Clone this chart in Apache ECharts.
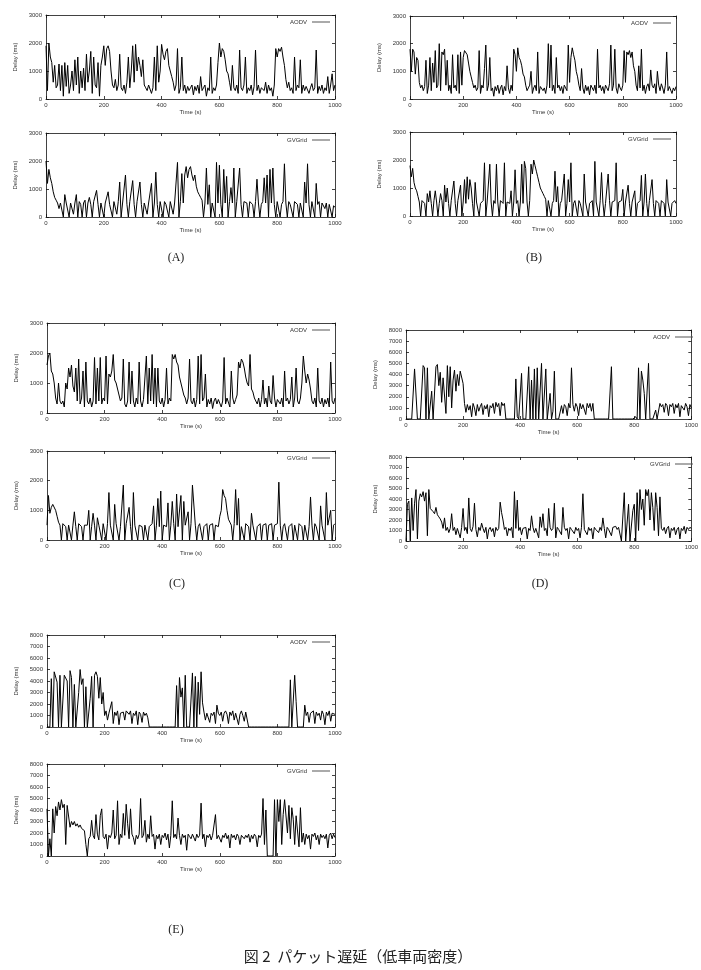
<!DOCTYPE html>
<html>
<head>
<meta charset="UTF-8">
<title>パケット遅延（低車両密度）</title>
<script src="https://cdn.jsdelivr.net/npm/echarts@6/dist/echarts.min.js"></script>
<style>html,body{margin:0;padding:0;background:#fff;}</style>
</head>
<body>
<div id="main" style="width:701px;height:970px;"></div>
<script>
// 5 秒ごとのサンプル (0..1000 s, 201 点)
var STEP = 5;

var aAodv = [
 1900,300,2000,1500,1300,600,1200,400,500,1250,300,1200,100,1300,450,1200,200,500,1000,300,
 1400,500,1500,200,1000,400,1100,300,1600,600,1000,1700,200,1500,500,400,1300,100,1200,1500,
 1900,1200,1800,1900,1700,1000,500,400,700,300,500,1600,400,300,500,200,600,1500,400,1000,
 1900,600,1950,1000,1500,1200,800,1400,500,400,300,500,450,200,400,1500,300,1900,600,1000,
 1950,1600,1400,1700,1800,1200,1000,800,600,300,500,1800,200,400,1500,300,500,200,450,300,
 400,500,150,450,300,500,200,800,300,400,500,100,400,300,1500,200,400,300,500,1300,
 2000,1500,1800,1700,1400,1000,900,600,300,1200,400,300,500,200,1750,400,300,500,1500,200,
 400,300,500,150,450,1750,300,500,200,400,450,300,600,200,500,300,400,100,500,1800,
 1500,1800,1700,1850,1500,1200,700,400,600,300,400,200,1500,300,500,400,1400,200,500,300,
 450,500,200,400,550,300,400,1750,200,450,300,500,200,400,300,800,200,500,900,300,
 500];
var aGvgrid = [
 2000,1200,1700,1400,1200,900,700,600,500,300,500,550,0,800,500,450,0,500,550,100,
 500,800,0,550,450,0,500,600,0,500,700,450,0,550,500,950,450,0,500,550,
 0,500,550,900,450,500,0,550,500,100,550,1250,0,500,550,1500,450,0,550,500,
 1300,450,0,550,500,1250,450,0,500,550,100,500,450,1200,0,500,1600,450,0,550,
 500,0,550,450,500,0,550,500,100,500,450,1950,0,550,1550,500,1500,1800,1400,1700,
 1800,1500,1300,1500,1100,900,800,700,600,0,500,1750,450,1150,0,500,550,0,1950,500,
 1850,450,0,1700,500,1450,0,550,1050,500,1750,0,550,500,1750,450,0,550,600,500,
 0,550,500,450,0,550,1350,500,0,450,550,1400,500,1500,0,1700,500,1750,450,0,
 550,500,0,450,550,1900,500,0,550,450,500,0,550,500,450,0,500,550,0,1250,
 500,1900,450,0,550,500,0,1200,450,550,0,500,450,300,500,0,450,500,0,400,
 350];
var bAodv = [
 1800,1000,1800,1700,900,1500,1400,600,400,500,300,450,1400,200,500,1500,300,1300,600,1750,
 400,500,2000,300,1700,1600,1800,500,1400,300,500,200,1600,400,500,300,1600,200,1700,500,
 1500,1750,1800,1600,1300,1000,800,600,400,500,300,400,1750,200,500,400,1100,1950,300,500,
 1500,300,400,100,450,300,500,200,400,500,150,450,300,1200,400,200,500,300,1800,1600,
 1000,1850,1500,1400,1200,900,800,500,300,400,500,1000,200,400,500,300,1700,200,450,500,
 300,400,200,500,2000,400,1950,300,500,200,1500,400,500,300,450,200,500,400,300,1950,
 600,1500,1850,1600,1400,1000,800,500,300,1100,400,200,500,300,450,150,500,400,300,500,
 200,1800,400,500,300,450,200,500,400,300,550,1950,300,500,1800,400,200,550,400,300,
 500,1750,600,1700,1600,1750,1500,1700,1200,1000,500,300,1200,400,1800,300,500,200,450,550,
 300,1050,500,400,550,200,1000,500,300,550,400,200,500,1700,300,450,500,200,400,300,
 450];
var bGvgrid = [
 1800,1400,1700,1200,1000,900,700,500,0,550,500,450,0,800,500,900,450,0,550,900,
 500,0,450,800,550,0,1100,500,1000,450,0,550,500,1250,450,0,550,500,1100,0,
 500,1300,450,1400,600,1300,1000,450,0,1200,500,550,0,450,500,550,1900,0,500,450,
 1850,500,0,550,450,1850,500,0,550,500,450,1900,0,500,550,450,900,0,500,1650,
 450,550,0,500,1850,450,1950,1700,500,0,550,1850,1500,2000,1800,1600,1400,1200,1000,900,
 800,700,600,0,550,500,0,450,550,1600,500,1050,0,450,550,500,1500,0,450,1300,
 500,1900,0,450,550,500,0,550,450,500,0,1500,500,550,0,450,500,550,0,1950,
 500,450,0,550,1550,500,0,450,500,1500,550,0,500,450,550,1900,0,500,450,550,
 950,0,500,550,1100,450,0,500,550,900,0,450,500,550,1450,0,500,1500,450,0,
 550,500,1300,450,0,550,500,450,0,550,500,450,0,1300,500,550,0,450,500,550,
 450];
var cAodv = [
 1600,1900,2000,1400,1300,1000,500,300,1000,400,300,400,200,1000,800,1500,1200,1600,900,700,
 1500,400,1800,300,500,1400,200,1700,400,300,500,200,400,1850,300,1500,400,1850,300,500,
 400,1900,300,1300,1200,1400,1950,1100,1000,800,600,400,500,1800,300,200,400,1700,300,1400,
 400,200,500,300,1700,400,200,450,500,1900,300,1500,400,1950,300,1500,200,1500,400,300,
 500,200,450,1500,300,500,400,1950,1800,1950,1700,1600,1200,1000,800,600,500,300,500,1800,
 400,300,500,200,450,1900,300,1950,400,500,1300,200,450,300,500,150,400,500,300,450,
 500,200,400,1850,300,500,450,200,1400,500,300,450,600,1700,1500,1800,1700,1500,1200,1000,
 900,1950,800,700,500,400,300,500,200,450,1100,300,500,200,900,400,300,1250,500,200,
 450,400,300,500,200,1400,400,500,300,450,1200,200,500,1500,400,300,500,1000,1900,1400,
 1000,1300,1100,800,400,300,500,200,1500,400,300,500,200,450,300,500,200,1700,400,300,
 500];
var cGvgrid = [
 500,1500,900,1100,1200,1150,1000,800,600,500,0,550,500,450,0,500,550,0,500,950,
 450,0,550,500,450,0,500,550,500,1000,0,450,900,500,0,750,500,450,0,550,
 500,0,550,1600,500,450,0,1200,550,500,0,450,500,1850,0,550,500,1100,450,0,
 1600,500,450,0,500,550,450,0,500,550,0,450,500,550,1150,0,500,1400,450,1650,
 0,500,550,450,1250,0,500,1300,550,0,1550,450,500,1500,0,1300,500,450,950,0,
 550,1850,1900,500,0,450,550,500,0,450,500,550,0,500,450,550,0,500,550,450,
 800,1000,1700,1500,1400,1000,700,600,500,0,550,1700,500,1400,0,450,500,0,550,500,
 450,0,900,500,550,0,450,500,550,0,500,450,550,0,500,450,550,0,500,450,
 550,1950,500,0,450,550,500,0,450,500,550,0,500,450,0,550,500,450,0,500,
 550,0,450,1450,500,0,550,450,500,0,1150,500,450,0,1600,500,550,1000,0,500,
 550];
var dAodv = [
 0,0,0,0,0,0,4500,4400,0,0,0,0,4800,4600,0,4600,0,0,2500,0,
 0,4700,4900,3000,4200,1500,3700,3600,500,4800,2000,4700,1000,3500,4400,2500,4000,3000,4300,4400,
 3200,1400,600,1300,800,1200,200,1400,1000,300,1300,700,1100,1400,400,1200,900,1300,200,1200,
 1000,1400,500,1500,1100,1400,300,1500,1200,1400,0,0,0,0,0,0,0,3600,200,0,
 0,4100,0,0,0,0,4700,0,3500,0,4500,0,4600,0,0,5000,0,0,4500,0,
 0,2300,0,700,4300,0,0,0,0,1200,500,1300,1100,300,1400,1000,4600,1300,700,1400,
 1100,300,1400,900,1300,1200,400,1400,1000,1400,700,1400,0,0,0,0,0,0,0,0,
 0,0,0,0,4700,0,0,0,0,0,0,0,0,0,0,0,0,0,0,0,
 0,200,0,4600,0,4300,3500,2300,0,0,5000,0,0,0,0,800,0,0,1400,1100,
 1300,600,1400,1200,300,1300,1100,1400,500,1300,1000,1400,200,1200,1300,800,1400,1100,300,1300,
 1000];
var dGvgrid = [
 0,3500,3800,0,4100,1000,3600,4900,200,3800,4500,4200,4700,3800,4600,500,4900,3100,3000,2800,
 2600,3200,2500,2300,2100,1800,1200,2200,1000,1300,800,1200,2600,1000,1300,600,1200,1100,300,1300,
 3100,1000,1300,700,4100,1200,900,1400,3600,1100,400,1300,1000,1700,1200,800,1300,200,1100,1300,
 900,1200,400,1300,1000,1200,3700,2700,2000,1100,1300,500,1200,1000,1300,300,4700,1200,3900,1000,
 1300,600,1200,1100,1300,200,1200,1000,2400,1300,800,1200,1100,300,2300,1300,2600,1000,1200,500,
 3100,1300,1000,1200,3600,300,1300,1100,1200,600,3200,1300,1000,1200,200,1300,1100,1200,700,1300,
 1000,1200,300,1300,4500,1100,1200,600,1300,1000,1200,200,1300,1100,1200,800,1300,1000,2200,1200,
 300,1300,1100,1200,500,1300,1200,1400,1100,1300,1200,0,0,4600,0,0,3500,0,0,2900,
 3500,0,4600,1000,4900,3000,4000,1500,4900,4300,4900,2000,4600,3200,1000,4600,3200,500,4200,1200,
 1000,1300,700,1200,1400,300,1200,1000,1300,600,1100,1300,200,1200,1000,1400,700,1300,1100,1300,
 1200];
var eAodv = [
 0,0,0,4200,0,4800,4900,3900,0,4500,0,0,4500,4500,4000,0,4900,4300,0,3700,
 0,0,3000,5000,3700,4200,0,3500,0,0,2500,4400,0,4500,4800,4400,2500,4300,2000,3000,
 1000,1400,600,1200,1100,2200,300,1300,1000,1400,200,1200,1100,1300,600,1400,1300,1100,1400,300,
 1200,1000,1400,200,1300,1100,400,1300,1000,1200,800,0,0,0,0,0,0,0,0,0,
 0,0,0,0,0,0,0,0,0,0,3600,0,4300,2600,3400,0,4500,0,0,0,
 0,4700,0,4400,0,3900,1100,4800,2100,1300,600,1200,1300,400,1200,1000,1300,300,1900,1200,
 1000,1300,500,1200,1400,1100,300,1300,1000,1400,600,1200,1300,200,1100,1400,1000,500,1300,1400,
 0,0,0,0,0,0,0,0,0,0,0,0,0,0,0,0,0,0,0,0,
 0,0,0,0,0,0,0,0,0,4100,0,0,4500,2200,0,0,0,0,0,1900,
 1000,1300,400,1200,1100,1400,300,1300,1000,1200,600,1400,1100,200,1300,1000,1400,500,1200,1300,
 1100];
var eGvgrid = [
 4100,0,1500,0,4100,2000,4300,3500,4700,4000,4900,4200,4500,1000,4400,4500,2500,3000,2700,3000,
 2600,2800,2500,2700,2400,2500,2200,1000,0,1500,1700,3100,1800,1500,3600,1900,1400,3500,4100,1700,
 1500,1900,600,1800,1600,2000,4000,1500,1800,4800,1000,1900,1600,3700,1800,4500,2800,1500,4100,1900,
 1600,1000,1800,1500,1900,5000,1600,1800,3100,1200,1900,1500,3500,1700,1900,600,1800,1500,1900,1000,
 1800,1600,2000,1400,1900,700,1800,4800,1600,1900,1500,3300,1800,1000,1900,1600,1800,500,1900,1700,
 1500,1900,1800,1300,1900,1600,1800,4600,1500,1900,800,1800,1600,1900,1400,1800,1900,3600,1500,1800,
 1900,1200,1800,1600,2000,1500,1800,700,1900,1600,1800,1400,1900,1700,1000,1800,1900,1500,1800,1600,
 1900,1200,1800,1500,1900,1700,800,1800,1600,1900,5000,1000,4000,0,0,0,0,0,4900,0,
 4900,3000,4900,1000,3600,4900,4800,2000,4400,1500,4200,3200,1000,3500,3400,800,4200,1200,2000,1000,
 1900,1500,1800,600,1900,1700,2000,1400,1800,1000,1900,1600,1800,1500,1900,700,1800,2000,1500,1900,
 1600];

var seriesNames = ['AODV','GVGrid','AODV','GVGrid','AODV','GVGrid','AODV','GVGrid','AODV','GVGrid'];
var seriesValues = [aAodv,aGvgrid,bAodv,bGvgrid,cAodv,cGvgrid,dAodv,dGvgrid,eAodv,eGvgrid];
var yMax = [3000,3000,3000,3000,3000,3000,8000,8000,8000,8000];
var panelLabels = ['(A)','(B)','(C)','(D)','(E)'];
var caption = '図 2  パケット遅延（低車両密度）';

// 各プロット枠の位置 [left, top, width, height]
var boxes = [
  [46, 15, 289, 84], [46, 133, 289, 84],
  [410, 16, 266, 83], [410, 132, 266, 84],
  [47, 323, 288, 90], [47, 451, 288, 89],
  [406, 330, 292, 89], [406, 457, 292, 84],
  [47, 635, 288, 92], [47, 764, 288, 92]
];
var labelPos = [[176, 258], [534, 258], [177, 584], [540, 584], [176, 930]];

var W = 701;
var FONT = 'Liberation Sans';
var lineCol = '#111';
function plain(v) { return String(v); }

var grids = [], xAxes = [], yAxes = [], series = [], legends = [];

boxes.forEach(function (b, i) {
  grids.push({left: b[0], top: b[1], width: b[2], height: b[3]});
  var line = {show: true, onZero: false, lineStyle: {color: lineCol, width: 0.8}};
  var tick = {show: true, inside: true, length: 3, lineStyle: {color: lineCol, width: 0.8}};
  var lab = {fontSize: 6, color: '#333', fontFamily: FONT};
  xAxes.push({
    type: 'value', gridIndex: i, position: 'bottom', min: 0, max: 1000, interval: 200,
    axisLine: line, axisTick: tick, splitLine: {show: false},
    axisLabel: Object.assign({margin: 3, formatter: plain}, lab),
    name: 'Time (s)', nameLocation: 'middle', nameGap: 10,
    nameTextStyle: lab
  });
  xAxes.push({
    type: 'value', gridIndex: i, position: 'top', min: 0, max: 1000, interval: 200,
    axisLine: line, axisTick: tick, splitLine: {show: false}, axisLabel: {show: false}
  });
  yAxes.push({
    type: 'value', gridIndex: i, position: 'left', min: 0, max: yMax[i], interval: 1000,
    axisLine: line, axisTick: tick, splitLine: {show: false},
    axisLabel: Object.assign({margin: 4, formatter: plain}, lab),
    name: 'Delay (ms)', nameLocation: 'middle', nameGap: 28,
    nameTextStyle: lab
  });
  yAxes.push({
    type: 'value', gridIndex: i, position: 'right', min: 0, max: yMax[i], interval: 1000,
    axisLine: line, axisTick: tick, splitLine: {show: false}, axisLabel: {show: false}
  });
  series.push({
    type: 'line', name: seriesNames[i], xAxisIndex: 2 * i, yAxisIndex: 2 * i,
    data: seriesValues[i].map(function (v, k) { return [k * STEP, v]; }),
    symbol: 'none', silent: true,
    lineStyle: {color: '#000', width: 1}
  });
  legends.push({
    top: b[1] + 4, right: W - (b[0] + b[2]) + 5, padding: 0,
    icon: 'rect', itemWidth: 18, itemHeight: 1, align: 'right', selectedMode: false,
    textStyle: {fontSize: 6, color: '#333', fontFamily: FONT},
    data: [{name: seriesNames[i], itemStyle: {color: '#555'}}]
  });
});

var graphics = panelLabels.map(function (t, i) {
  return {
    type: 'text', x: labelPos[i][0], y: labelPos[i][1],
    style: {text: t, font: '12px "Liberation Serif"', fill: '#222',
            align: 'center', verticalAlign: 'middle', textAlign: 'center', textVerticalAlign: 'middle'}
  };
});
graphics.push({
  type: 'text', x: 358, y: 956,
  style: {text: caption, font: '15px "Noto Sans CJK JP"', fill: '#222',
          align: 'center', verticalAlign: 'middle', textAlign: 'center', textVerticalAlign: 'middle'}
});

var chart = echarts.init(document.getElementById('main'));
chart.setOption({
  animation: false,
  backgroundColor: '#fff',
  grid: grids,
  xAxis: xAxes,
  yAxis: yAxes,
  legend: legends,
  series: series,
  graphic: graphics
});
</script>
</body>
</html>
